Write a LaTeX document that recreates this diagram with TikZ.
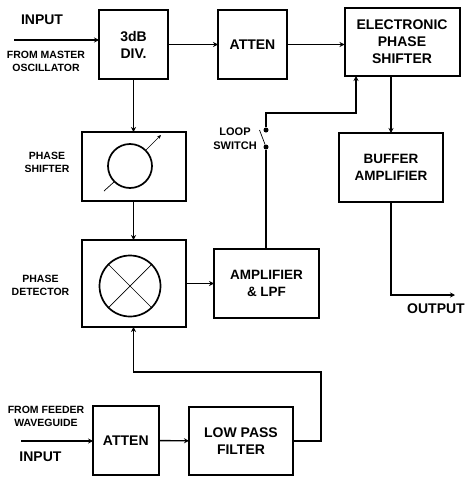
\documentclass[tikz,border=0pt]{standalone}
\usepackage{fontspec}
\setmainfont{Liberation Sans}
\usetikzlibrary{arrows.meta, positioning}

\begin{document}
\begin{tikzpicture}[
		x=1pt, y=-1pt,
		node distance=50pt,
		box/.style={
			draw,
			line width=2pt,
			outer sep=0pt,
			minimum width=69pt,
			minimum height=69pt,
			align=center,
			font=\fontsize{14}{17}\selectfont\bfseries
		},
		wide/.style={box, minimum width=104pt},
		note/.style={
			align=center,
			inner sep=0pt,
			font=\fontsize{10.5}{13}\selectfont\bfseries
		},
		title/.style={
			inner sep=0pt,
			font=\fontsize{14}{15}\selectfont\bfseries
		},
		symbol/.style={draw, circle, line width=1.7pt, inner sep=0pt, outer sep=0pt},
		thin line/.style={line width=0.7pt},
		arrow/.style={-{Stealth[length=5pt,width=5pt]}, line width=1.4pt},
		wire/.style={line width=1.4pt},
		dot/.style={circle, fill=black, inner sep=0pt, minimum size=5pt}
		]
		
		\useasboundingbox (0,0) rectangle (466,477);
		
		% top row
		\node[box] (div) at (133.5,44.5) {3dB\\DIV.};
		\node[box, right=of div] (atten) {ATTEN};
		\node[box, minimum width=115pt, minimum height=68pt] (eps) at (402,42) {ELECTRONIC\\PHASE\\SHIFTER};
		\node[box, minimum width=104pt, font=\fontsize{13.5}{17}\selectfont\bfseries] (buffer) at (391,167.5) {BUFFER\\AMPLIFIER};
		
		% middle column
		\node[wide] (shifter) at (133.5,166.5) {};
		\node[wide, minimum height=87pt] (detector) at (133.5,283.5) {};
		\node[box, minimum width=105pt, minimum height=69pt, font=\fontsize{13.5}{17}\selectfont\bfseries] (amp) at (266.5,283.5) {AMPLIFIER\\\& LPF};
		\node[symbol, minimum size=44pt] (shiftcircle) at (130,166) {};
		\node[symbol, minimum size=61pt] (detcircle) at (130,286) {};
		
		% bottom row
		\node[box, minimum width=65.5pt] (attenb) at (125.8,440.5) {ATTEN};
		\node[box, minimum width=104pt, minimum height=68pt] (lpf) at (241,441) {LOW PASS\\FILTER};
		
		% texts
		\node[title] (inputtop) at (42,20) {INPUT};
		\node[note] (master) at (46,61.5) {FROM MASTER\\OSCILLATOR};
		\node[note] (shiftnote) at (47,162) {PHASE\\SHIFTER};
		\node[note] (detnote) at (40.5,285.5) {PHASE\\DETECTOR};
		\node[note, font=\fontsize{11}{14}\selectfont\bfseries] (switchnote) at (235,139) {LOOP\\SWITCH};
		\node[note] (feeder) at (46,416.5) {FROM FEEDER\\WAVEGUIDE};
		\node[title] (inputbot) at (40.5,457) {INPUT};
		\node[title] (output) at (436,309) {OUTPUT};
		
		% free ends
		\coordinate (instart) at (14,40);
		\coordinate (inbstart) at (21,441);
		\coordinate (outend) at (455,295);
		\coordinate (swtop) at (266,130);
		\coordinate (swbot) at (266,147);
		\coordinate (swblade) at (259.5,130);
		\coordinate (looptop) at (266,113);
		\coordinate (feedright) at (321,372);
		\coordinate (slashstart) at (104,191);
		\coordinate (slashend) at (161,135);
		
		% switch contacts
		\node[dot] (contacta) at (swtop) {};
		\node[dot] (contactb) at (swbot) {};
		
		\draw[arrow] (instart) -- (instart -| div.west);
		\draw[arrow] (inbstart) -- (inbstart -| attenb.west);
		\draw[arrow] (div) -- (atten);
		\draw[arrow] (atten) -- (atten -| eps.west);
		\draw[arrow] (div.south) -- (div.south |- shifter.north);
		\draw[arrow] (shifter) -- (detector);
		\draw[arrow] (eps.south -| buffer.north) -- (buffer.north);
		\draw[arrow] (buffer.south) |- (outend);
		\draw[arrow] (detector.east |- amp.west) -- (amp.west);
		\draw[arrow] (attenb) -- (lpf);
		
		% feedback from the low pass filter
		\draw[arrow] (lpf.east) -| (feedright) -| (detector.south);
		
		% loop switch
		\draw[wire] (amp.north -| swbot) -- (contactb);
		\draw[arrow] (contacta) -- (looptop) -- (looptop -| 356,0) -- (eps.south -| 356,0);
		\draw[thin line] (swblade) -- (contactb);
		
		% symbols
		\draw[thin line] (slashstart) -- (shiftcircle.225);
		\draw[thin line, -{Stealth[length=4pt,width=3.5pt]}] (shiftcircle.45) -- (slashend);
		\draw[thin line] (detcircle.45) -- (detcircle.225);
		\draw[thin line] (detcircle.135) -- (detcircle.315);
		
	\end{tikzpicture}
\end{document}
